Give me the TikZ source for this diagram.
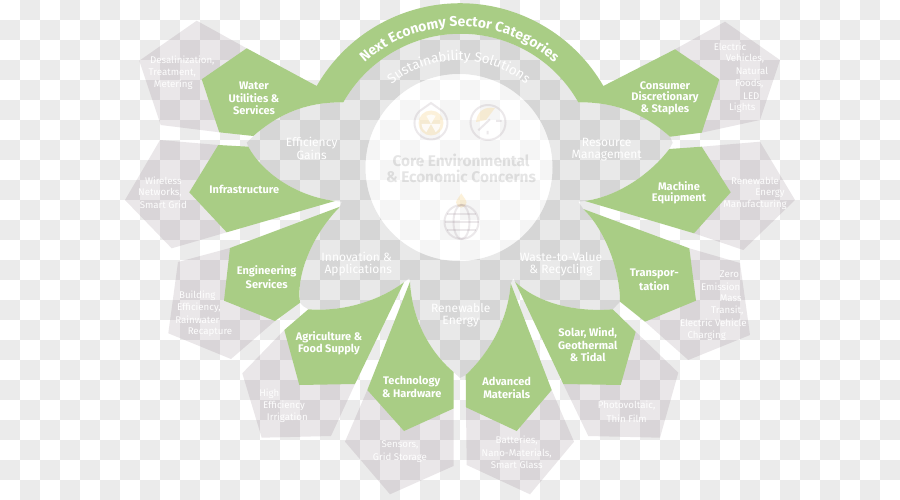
\documentclass[tikz,border=0pt]{standalone}
\usepackage{fontspec}
\setmainfont{Fira Sans}
\usetikzlibrary{decorations.text}
\definecolor{leaf}{HTML}{A9CD85}
\definecolor{cell}{HTML}{EBEBEB}
\definecolor{plum}{HTML}{5A3A50}
\definecolor{amber}{HTML}{F5C35A}
\tikzset{
  petal/.style={fill=leaf},
  outerpent/.style={fill=plum,fill opacity=0.12},
  greentext/.style={text=white,font=\fontsize{11}{13}\selectfont\bfseries},
  faintsmall/.style={text=white,text opacity=0.95,font=\fontsize{9.7}{12}\selectfont},
  faintring/.style={text=white,font=\fontsize{12}{14}\selectfont},
  coretext/.style={text=black,text opacity=0.1,font=\fontsize{15.4}{17}\selectfont\bfseries},
  iconline/.style={draw=plum,draw opacity=0.11,line width=2pt},
  iconfill/.style={fill=amber,fill opacity=0.22}
}
\begin{document}
\begin{tikzpicture}[x=1pt,y=-1pt]
  \useasboundingbox (0,0) rectangle (900,500);
  \clip (0,0) rectangle (900,500);
  % checker backdrop
  \fill[white] (0,0) rectangle (900,500);
  \foreach \i in {0,...,44}
    \foreach \j in {0,...,24}{
      \pgfmathtruncatemacro\k{mod(\i+\j,2)}
      \ifnum\k=1 \fill[cell] (20*\i,20*\j) rectangle ++(20,20); \fi
    }
  % outer pentagons
  \fill[outerpent] (196.7,20.7) -- (246.7,48.3) -- (219.3,132.3) -- (160.7,125) -- (139.3,60.7) -- cycle;
  \fill[outerpent] (160,140) -- (218.3,145) -- (226.7,232.3) -- (171.7,248.3) -- (125,200) -- cycle;
  \fill[outerpent] (230,248) -- (275,321) -- (231,359) -- (168.3,333.3) -- (178,262) -- cycle;
  \fill[outerpent] (284.3,330) -- (355,384) -- (331,436) -- (261.7,437.7) -- (242.3,373.3) -- cycle;
  \fill[outerpent] (367.3,390) -- (345,441.7) -- (390,494.3) -- (453.5,466) -- (453.5,408.5) -- cycle;
  \fill[outerpent] (466,407.3) -- (466.7,465) -- (530,494.3) -- (574,441.7) -- (551.7,390) -- cycle;
  \fill[outerpent] (563.3,384) -- (588.3,436) -- (660,437.7) -- (678.3,372.7) -- (635.7,331.7) -- cycle;
  \fill[outerpent] (689.3,248.3) -- (740,263) -- (750,335) -- (688.3,360) -- (645,321.7) -- cycle;
  \fill[outerpent] (701.7,146.7) -- (760,141.7) -- (795,200) -- (743.3,250) -- (694,233.3) -- cycle;
  \fill[outerpent] (675,49.3) -- (725,21.7) -- (780,60) -- (760,120) -- (701.7,132.7) -- cycle;
  % grey lobed ring with the round hole
  \fill[black,fill opacity=0.085,even odd rule]
    (343.3,102.3) .. controls (312,102) and (283,110) .. (253.3,136) -- (246.7,142.7) -- (248.3,146.7)
    .. controls (262,172) and (295,196) .. (335,201) -- (341.7,201.7) -- (340,206.7)
    .. controls (312,235) and (296,275) .. (300,302.7) -- (303,306) -- (308.3,309.3)
    .. controls (345,312) and (380,300) .. (404,282.3) -- (409.3,278.3) -- (410,281.7)
    .. controls (412,320) and (430,352) .. (453.5,372) -- (460,378) -- (465.7,375)
    .. controls (490,352) and (508,320) .. (510.7,283.3) -- (513.3,278.3) -- (515,281.7)
    .. controls (540,305) and (578,312) .. (612.7,309.3) -- (616,306) -- (620,301.7)
    .. controls (620,270) and (605,230) .. (583.3,209) -- (578.3,201.7) -- (585,201)
    .. controls (620,196) and (652,172) .. (669.3,149) -- (672.7,142.7) -- (670,136.7)
    .. controls (640,110) and (610,102) .. (578.3,102.3)
    arc[start angle=-29.5,end angle=-150.5,radius=135] -- cycle
    (459,167.5) circle (93.5);
  \fill[white,fill opacity=0.5] (459,167.5) circle (93.5);
  % green band with the two top petals
  \fill[petal] (201.7,79.3) -- (246.7,48.3) -- (316.7,86)
    arc[start angle=-150,end angle=-30,radius=165.5] -- (675,49.3) -- (719.3,79.3) -- (701.7,132.7) -- (670,136.7)
    .. controls (640,110) and (610,102) .. (578.3,102.3)
    arc[start angle=-29.5,end angle=-150.5,radius=135]
    .. controls (312,102) and (283,110) .. (253.3,136) -- (219.3,132.3) -- cycle;
  % remaining green petals
  \fill[petal] (218.3,145) -- (248.3,146.7) .. controls (262,172) and (295,196) .. (335,201) -- (226.7,232.3) -- (189.3,192.3) -- cycle;
  \fill[petal] (230,248) -- (340,206.7) .. controls (312,235) and (296,275) .. (300,302.7) -- (275,321) -- (224,300.7) -- cycle;
  \fill[petal] (308.3,309.3) .. controls (345,312) and (380,300) .. (404,282.3) -- (355,384) -- (299.3,385) -- (284.3,330) -- cycle;
  \fill[petal] (410,281.7) .. controls (412,320) and (430,352) .. (453.5,372) -- (453.5,408.5) -- (404,431) -- (367.3,390) -- cycle;
  \fill[petal] (510.7,283.3) .. controls (508,320) and (490,352) .. (465.7,375) -- (466,407.3) -- (516.7,431) -- (551.7,390) -- cycle;
  \fill[petal] (515,281.7) .. controls (540,305) and (578,312) .. (612.7,309.3) -- (635.7,331.7) -- (620.7,385) -- (563.3,384) -- cycle;
  \fill[petal] (583.3,209) -- (689.3,248.3) -- (696,300.7) -- (645,321.7) -- (620,301.7) .. controls (620,270) and (605,230) .. (583.3,209) -- cycle;
  \fill[petal] (585,201) .. controls (620,196) and (652,172) .. (669.3,149) -- (701.7,146.7) -- (730.7,192.3) -- (694,233.3) -- cycle;
  % text on the arcs
  \path[decorate,decoration={text along path,text align=center,text color=white,
    text={|\fontsize{14}{15}\selectfont\bfseries|Next Economy Sector Categories}}]
    (336.5,97.5) arc[start angle=-150,end angle=-30,radius=142];
  \path[decorate,decoration={text along path,text align=center,text color=white,
    text={|\fontsize{13.5}{15}\selectfont|Sustainability Solutions}}]
    (366.3,114) arc[start angle=-150,end angle=-30,radius=107];
  % labels on the green petals
  \foreach \x/\y/\txt [count=\n] in {
    254/85.7/Water, 254/97.7/{Utilities \&}, 254/110/Services,
    665/85.7/Consumer, 665/97.7/Discretionary, 665/110/{\& Staples},
    244.3/189.7/Infrastructure, 679/185.7/Machine, 679/198/Equipment,
    266.7/271.7/Engineering, 266.7/283.7/Services,
    654.3/273.7/Transpor-, 654.3/285.7/tation,
    329/337.3/{Agriculture \&}, 329/349.7/{Food Supply},
    587.7/332.7/{Solar, Wind,}, 587.7/345/Geothermal, 587.7/357.3/{\& Tidal},
    411.7/381.3/Technology, 411.7/393.7/{\& Hardware},
    506.7/381.3/Advanced, 506.7/393.7/Materials}
    \node[greentext] (green\n) at (\x,\y) {\txt};
  % labels on the grey pentagons
  \foreach \x/\y/\txt [count=\n] in {
    182.3/60.7/{Desalinization,}, 172.3/72.7/{Treatment,}, 173.3/85/Metering,
    163.3/180.7/Wireless, 160/193/{Networks,}, 163.3/205/{Smart Grid},
    197.3/295.3/Building, 199/307.7/{Efficiency,}, 197.3/320/Rainwater, 210/332.3/Recapture,
    269.3/393.3/High, 284/405.7/Efficiency, 287.3/417.7/Irrigation,
    400/445.3/{Sensors,}, 400/457.7/{Grid Storage},
    516.7/441/{Batteries,}, 516.7/453.3/{Nano-Materials,}, 516.7/465.3/{Smart Glass},
    626.7/406/{Photovoltaic,}, 626.7/418.3/{Thin Film},
    729.3/274.3/Zero, 720.7/286.3/Emission, 730.7/298.7/Mass, 727.3/311/{Transit,},
    713.3/323/{Electric Vehicle}, 706.7/335.3/Charging,
    755/180.7/Renewable, 770/193/Energy, 755/205/Manufacturing,
    730/46.3/Electric, 745/58.7/{Vehicles,}, 752/71/Natural, 749.3/83.3/{Foods,}, 751.3/95.7/LED, 742.3/108/Lights}
    \node[faintsmall] (pent\n) at (\x,\y) {\txt};
  % labels on the grey ring
  \foreach \x/\y/\txt [count=\n] in {
    311.7/142.7/Efficiency, 311.7/155.3/Gains,
    606.7/142.7/Resource, 606.7/155.3/Management,
    356.7/256.7/{Innovation \&}, 358.3/269.7/Applications,
    561/256.7/Waste-to-Value, 561/269.7/{\& Recycling},
    460.7/308.3/Renewable, 460.7/321.7/Energy}
    \node[faintring] (ring\n) at (\x,\y) {\txt};
  \node[coretext] (core1) at (461,160.7) {Core Environmental};
  \node[coretext] (core2) at (461,176) {\& Economic Concerns};
  % drop icon
  \fill[iconfill] (431,123) circle (12.5);
  \foreach \a in {-90,30,150}
    \fill[white,fill opacity=0.8] (431,124) -- +(\a-30:9.5) arc[start angle=\a-30,end angle=\a+30,radius=9.5] -- cycle;
  \draw[iconline] (431,103) -- (419.3,111.3) arc[start angle=-135,end angle=-405,radius=16.5] -- cycle;
  % gauge icon
  \fill[iconfill] (486,120) -- (476,122) .. controls (477,112) and (484,106) .. (495,108) -- cycle;
  \draw[iconline] (488,122.5) circle (17.5);
  \draw[iconline] (478.3,130.3) -- (490,119.3) (496,121) -- (501.7,121) (487.7,131) -- (487.7,134.3);
  % globe icon
  \fill[iconfill] (461.3,193.3) .. controls (464,198) and (466.5,200) .. (466.5,202.5) arc[start angle=0,end angle=180,radius=5.2] .. controls (456.1,200) and (458.6,198) .. (461.3,193.3) -- cycle;
  \draw[iconline] (467.3,206) arc[start angle=-70,end angle=-470,radius=17];
  \draw[iconline] (461.5,222) ellipse (8 and 17);
  \draw[iconline] (447,214) -- (476,214) (447,230) -- (476,230) (444.5,222) -- (478.5,222);
\end{tikzpicture}
\end{document}
